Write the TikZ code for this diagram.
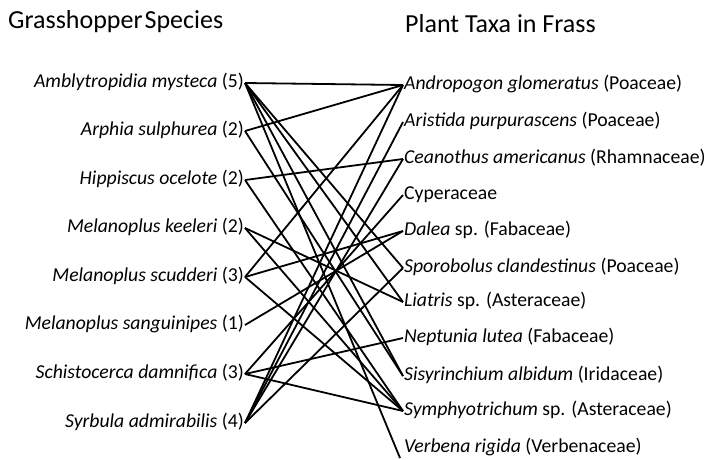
\documentclass[tikz,border=0pt]{standalone}
\usepackage{fontspec}
\setmainfont{Carlito}
\begin{document}
\begin{tikzpicture}[x=1pt,y=-1pt,
  lab/.style={inner sep=1pt, font=\fontsize{19.7}{22}\selectfont, text height=13pt, text depth=4pt},
  ttl/.style={font=\fontsize{26}{30}\selectfont, anchor=west, inner sep=0pt},
  link/.style={line width=1.8pt, black}]
\useasboundingbox (0,0) rectangle (714,459);
\node[ttl] (tl) at (8,22) {Grasshopper\kern2pt Species};
\node[ttl] (tr) at (405,24) {Plant Taxa in Frass};
% left
\node[lab, anchor=east] (l1) at (245,83) {\textit{Amblytropidia mysteca} (5)};
\node[lab, anchor=east] (l2) at (245,131) {\textit{Arphia sulphurea} (2)};
\node[lab, anchor=east] (l3) at (245,180) {\textit{Hippiscus ocelote} (2)};
\node[lab, anchor=east] (l4) at (245,228) {\textit{Melanoplus keeleri} (2)};
\node[lab, anchor=east] (l5) at (245,277) {\textit{Melanoplus scudderi} (3)};
\node[lab, anchor=east] (l6) at (245,325) {\textit{Melanoplus sanguinipes} (1)};
\node[lab, anchor=east] (l7) at (245,374) {\textit{Schistocerca damnifica} (3)};
\node[lab, anchor=east] (l8) at (245,423) {\textit{Syrbula admirabilis} (4)};
% right
\node[lab, anchor=west] (r1) at (403,85) {\textit{Andropogon glomeratus} (Poaceae)};
\node[lab, anchor=west] (r2) at (403,122) {\textit{Aristida purpurascens} (Poaceae)};
\node[lab, anchor=west] (r3) at (403,159) {\textit{Ceanothus americanus} (Rhamnaceae)};
\node[lab, anchor=west] (r4) at (403,195) {Cyperaceae};
\node[lab, anchor=west] (r5) at (403,231) {\textit{Dalea} sp. (Fabaceae)};
\node[lab, anchor=west] (r6) at (403,268) {\textit{Sporobolus clandestinus} (Poaceae)};
\node[lab, anchor=west] (r7) at (403,302) {\textit{Liatris} sp. (Asteraceae)};
\node[lab, anchor=west] (r8) at (403,338) {\textit{Neptunia lutea} (Fabaceae)};
\node[lab, anchor=west] (r9) at (403,376) {\textit{Sisyrinchium albidum} (Iridaceae)};
\node[lab, anchor=west] (r10) at (403,411) {\textit{Symphyotrichum} sp. (Asteraceae)};
\node[lab, anchor=west] (r11) at (403,448) {\textit{Verbena rigida} (Verbenaceae)};
\coordinate (ve) at (400,458);
\foreach \a/\b in {1/1,1/6,1/7,1/9, 2/1,2/9, 3/3,3/10, 4/7,4/10, 5/1,5/5,5/10, 6/5, 7/4,7/8,7/10, 8/1,8/2,8/3,8/6}
  \draw[link] (l\a.east) -- (r\b.west);
\draw[link] (l1.east) -- (ve);
\end{tikzpicture}
\end{document}
